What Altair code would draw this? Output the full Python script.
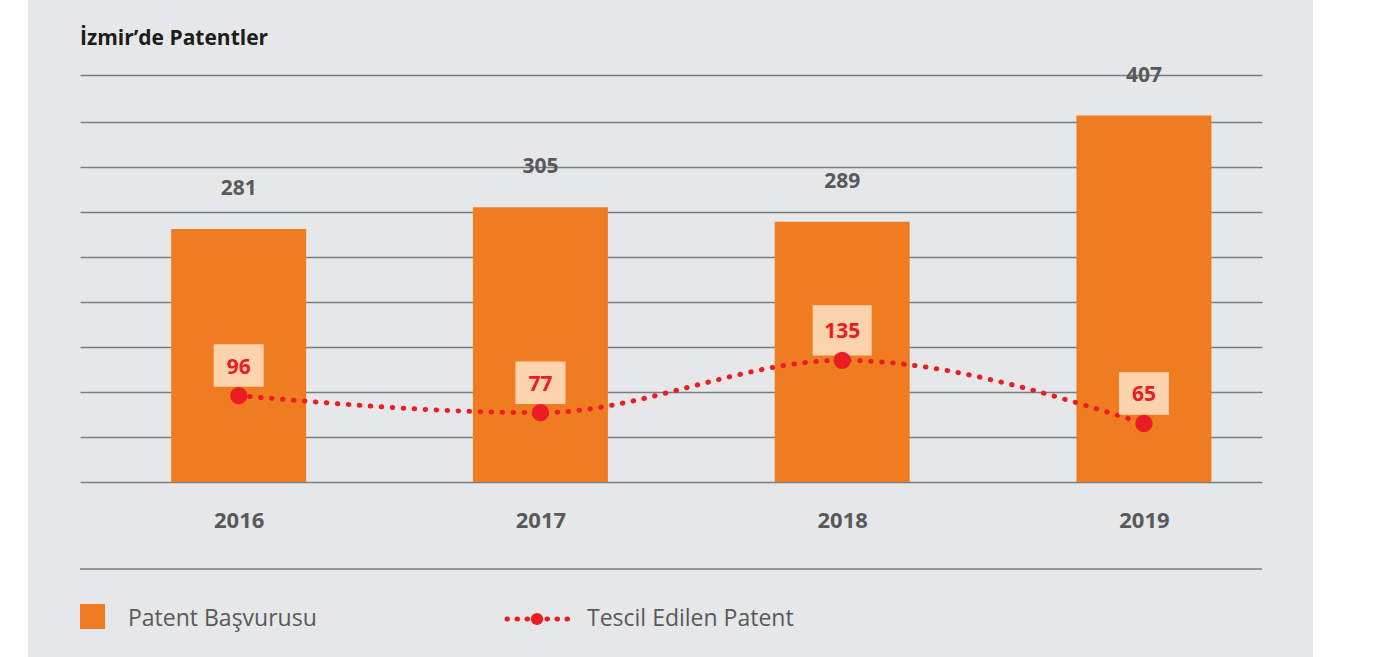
import altair as alt
import pandas as pd

years = [2016, 2017, 2018, 2019]
basvuru = [281, 305, 289, 407]
tescil = [96, 77, 135, 65]
title_text = "İzmir’de Patentler"
legend_labels = ["Patent Başvurusu", "Tescil Edilen Patent"]
grid_values = [0, 50, 100, 150, 200, 250, 300, 350, 400, 452]

ORANGE = "#F07C21"
RED = "#EC1C24"
PEACH = "#FDD3AE"
GRAY_TXT = "#58595B"
BG = "#E6E7E9"
FONT = "Open Sans"

df = pd.DataFrame({"year": years, "basvuru": basvuru, "tescil": tescil})
one = pd.DataFrame({"k": [0]})

W, H = 1182, 407

xscale = alt.Scale(domain=[2015.4907, 2019.3747], nice=False, zero=False)
yscale = alt.Scale(domain=[0, 452], nice=False)

xaxis = alt.Axis(values=years, format="d", title=None, grid=False, domain=False,
                 ticks=False, tickSize=0, labelPadding=38, labelBaseline="middle",
                 labelFlush=False, labelFontSize=22, labelFontWeight="bold",
                 labelColor=GRAY_TXT, labelFont=FONT)
yaxis = alt.Axis(values=grid_values, title=None, labels=False, domain=False, ticks=False,
                 grid=True, gridColor="#7d7d7d", gridWidth=1.5)

base = alt.Chart(df)

bars = base.mark_bar(size=135, color=ORANGE).encode(
    x=alt.X("year:Q", scale=xscale, axis=xaxis),
    y=alt.Y("basvuru:Q", scale=yscale, axis=yaxis),
)

bar_text = base.mark_text(dy=-40, fontSize=21, fontWeight="bold", color=GRAY_TXT,
                          font=FONT, baseline="middle").encode(
    x="year:Q", y="basvuru:Q", text="basvuru:Q")

line = base.mark_line(interpolate="monotone", color=RED, strokeWidth=5,
                      strokeCap="round", strokeDash=[0.5, 10.5]).encode(
    x="year:Q", y="tescil:Q")

pts = base.mark_point(filled=True, opacity=1, color=RED, size=300).encode(
    x="year:Q", y="tescil:Q")

boxes = base.transform_calculate(
    bsize="datum.tescil >= 100 ? 3481 : 2500"
).mark_point(shape="M-1,-0.85L1,-0.85L1,0.85L-1,0.85Z", filled=True, opacity=1,
             color=PEACH, yOffset=-30).encode(
    x="year:Q", y="tescil:Q", size=alt.Size("bsize:Q", scale=None, legend=None))

red_text = base.mark_text(dy=-28, fontSize=21, fontWeight="bold", color=RED,
                          font=FONT, baseline="middle").encode(
    x="year:Q", y="tescil:Q", text="tescil:Q")

o = alt.Chart(one)

white_left = o.mark_rect(color="white").encode(
    x=alt.value(-80), x2=alt.value(-52), y=alt.value(-75), y2=alt.value(582))
white_right = o.mark_rect(color="white").encode(
    x=alt.value(1233), x2=alt.value(1318), y=alt.value(-75), y2=alt.value(582))

title = o.mark_text(text=title_text, align="left", baseline="middle", fontSize=21,
                    fontWeight="bold", color="#1d1d1b", font=FONT).encode(
    x=alt.value(0), y=alt.value(-36))

bottom_rule = o.mark_rule(color="#7d7d7d", strokeWidth=1.5).encode(
    x=alt.value(0), x2=alt.value(W), y=alt.value(494))

leg_sq = o.mark_rect(color=ORANGE).encode(
    x=alt.value(0), x2=alt.value(25), y=alt.value(529), y2=alt.value(554))
leg_t1 = o.mark_text(text=legend_labels[0], align="left", baseline="middle", fontSize=23,
                     color=GRAY_TXT, font=FONT).encode(x=alt.value(48), y=alt.value(544))
leg_line = o.mark_rule(color=RED, strokeWidth=5, strokeCap="round",
                       strokeDash=[0.5, 9.5]).encode(
    x=alt.value(427), x2=alt.value(490), y=alt.value(544))
leg_pt = o.mark_point(filled=True, opacity=1, color=RED, size=150).encode(
    x=alt.value(457), y=alt.value(544))
leg_t2 = o.mark_text(text=legend_labels[1], align="left", baseline="middle", fontSize=23,
                     color=GRAY_TXT, font=FONT).encode(x=alt.value(507), y=alt.value(544))

chart = alt.layer(
    white_left, white_right, bars, bar_text, line, boxes, pts, red_text,
    title, bottom_rule, leg_sq, leg_t1, leg_line, leg_pt, leg_t2
).properties(
    width=W, height=H,
    autosize=alt.AutoSizeParams(type="none"),
    padding={"left": 80, "top": 75, "right": 136, "bottom": 175},
    background=BG,
).configure_view(stroke=None)

chart.save("out.html", embed_options={"renderer": "svg", "actions": False})
